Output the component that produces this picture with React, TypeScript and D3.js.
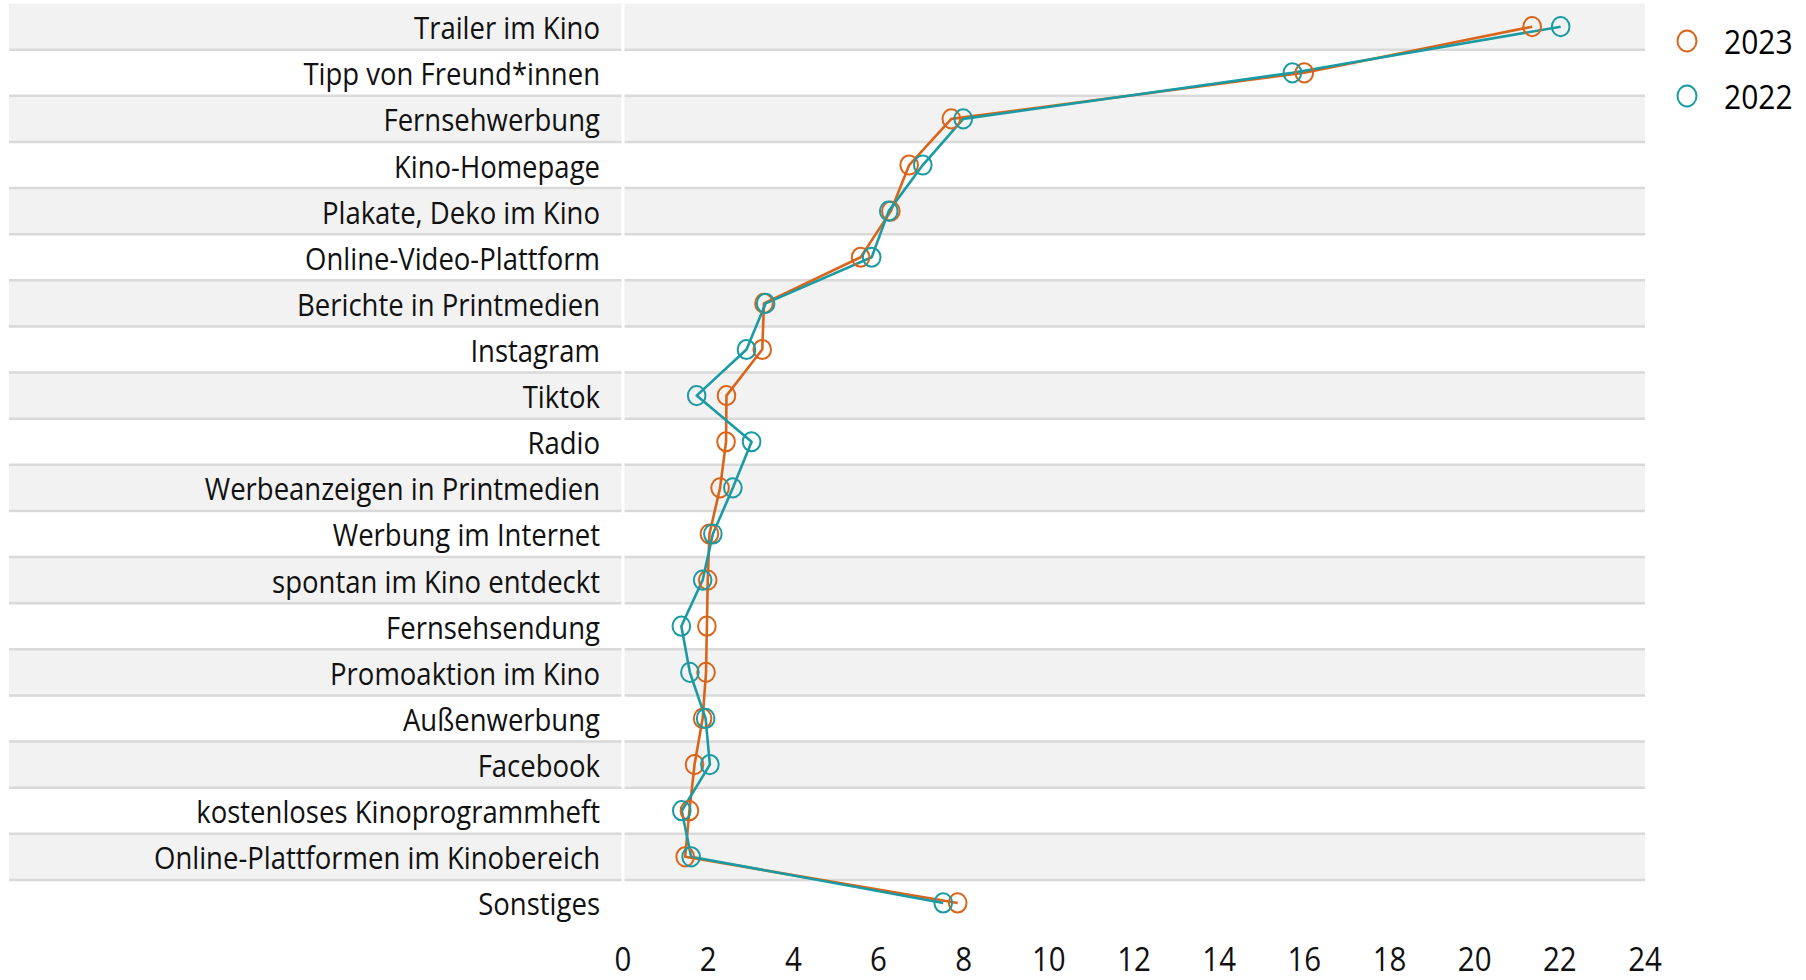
import React, { useEffect } from 'react';
import * as d3 from 'd3';

// Kategorien von oben nach unten
const categories = [
  'Trailer im Kino',
  'Tipp von Freund*innen',
  'Fernsehwerbung',
  'Kino-Homepage',
  'Plakate, Deko im Kino',
  'Online-Video-Plattform',
  'Berichte in Printmedien',
  'Instagram',
  'Tiktok',
  'Radio',
  'Werbeanzeigen in Printmedien',
  'Werbung im Internet',
  'spontan im Kino entdeckt',
  'Fernsehsendung',
  'Promoaktion im Kino',
  'Außenwerbung',
  'Facebook',
  'kostenloses Kinoprogrammheft',
  'Online-Plattformen im Kinobereich',
  'Sonstiges',
];

const values2023 = [21.35, 16.0, 7.71, 6.72, 6.29, 5.58, 3.31, 3.27, 2.43, 2.42, 2.28, 2.03, 1.99, 1.97, 1.95, 1.87, 1.68, 1.56, 1.46, 7.86];
const values2022 = [22.02, 15.72, 7.99, 7.04, 6.24, 5.84, 3.35, 2.9, 1.73, 3.02, 2.58, 2.11, 1.87, 1.37, 1.57, 1.94, 2.04, 1.38, 1.6, 7.52];

const xTicks = [0, 2, 4, 6, 8, 10, 12, 14, 16, 18, 20, 22, 24];

const seriesNames = ['2023', '2022'];
const seriesColors = ['#d9641a', '#1a9ba3'];

const WIDTH = 1806;
const HEIGHT = 980;
const FONT = '"Open Sans", "Noto Sans", sans-serif';

const App = () => {
  useEffect(() => {
    document.body.style.margin = '0';
    document.body.style.overflow = 'hidden';
  }, []);

  // Skalen
  const x = d3.scaleLinear().domain([0, 24]).range([623, 1645]);
  const y = d3
    .scaleBand()
    .domain(categories)
    .range([3.6, 3.6 + 20 * 46.12])
    .padding(0);
  const bw = y.bandwidth();
  const yc = (c: string) => (y(c) as number) + bw / 2;

  const series = [values2023, values2022];

  const line = d3
    .line<number>()
    .x((d) => x(d))
    .y((d, i) => yc(categories[i]));

  return (
    <svg width={WIDTH} height={HEIGHT} style={{ display: 'block', background: '#fff' }} fontFamily={FONT}>
      {/* Streifen */}
      {categories.map((c, i) =>
        i % 2 === 0 ? (
          <rect key={'b' + c} x={9} y={y(c)} width={1645 - 9} height={bw} fill="#f2f2f2" />
        ) : null
      )}
      {/* Trennlinien */}
      {categories.slice(1).map((c) => (
        <line key={'g' + c} x1={9} x2={1645} y1={y(c)} y2={y(c)} stroke="#d9d9d9" strokeWidth={2.5} />
      ))}
      {/* weiße Null-Linie */}
      <line x1={x(0)} x2={x(0)} y1={y(categories[0])} y2={(y(categories[19]) as number) + bw} stroke="#fff" strokeWidth={3} />

      {/* Kategorie-Beschriftung */}
      {categories.map((c) => (
        <text
          key={'l' + c}
          transform={`translate(600, ${yc(c) + 12.5}) scale(1, 1.14)`}
          textAnchor="end"
          fontSize={27.5}
          fill="#111"
        >
          {c}
        </text>
      ))}

      {/* Linien */}
      {series.map((vals, s) => (
        <path key={'p' + s} d={line(vals) || ''} fill="none" stroke={seriesColors[s]} strokeWidth={2.6} strokeLinejoin="round" />
      ))}
      {/* Punkte */}
      {series.map((vals, s) =>
        vals.map((v, i) => (
          <ellipse key={'c' + s + '-' + i} cx={x(v)} cy={yc(categories[i])} rx={8.8} ry={9.6} fill="none" stroke={seriesColors[s]} strokeWidth={2} />
        ))
      )}

      {/* x-Achse */}
      {xTicks.map((t) => (
        <text key={'t' + t} transform={`translate(${x(t)}, 971) scale(1, 1.1)`} textAnchor="middle" fontSize={29.5} fill="#111">
          {t}
        </text>
      ))}

      {/* Legende */}
      {seriesNames.map((n, i) => (
        <g key={'lg' + n} transform={`translate(1687, ${41 + i * 55})`}>
          <ellipse cx={0} cy={0} rx={9.5} ry={10.5} fill="none" stroke={seriesColors[i]} strokeWidth={2} />
          <text transform="translate(37, 13) scale(1, 1.1)" fontSize={30} fill="#000">
            {n}
          </text>
        </g>
      ))}
    </svg>
  );
};

export default App;
